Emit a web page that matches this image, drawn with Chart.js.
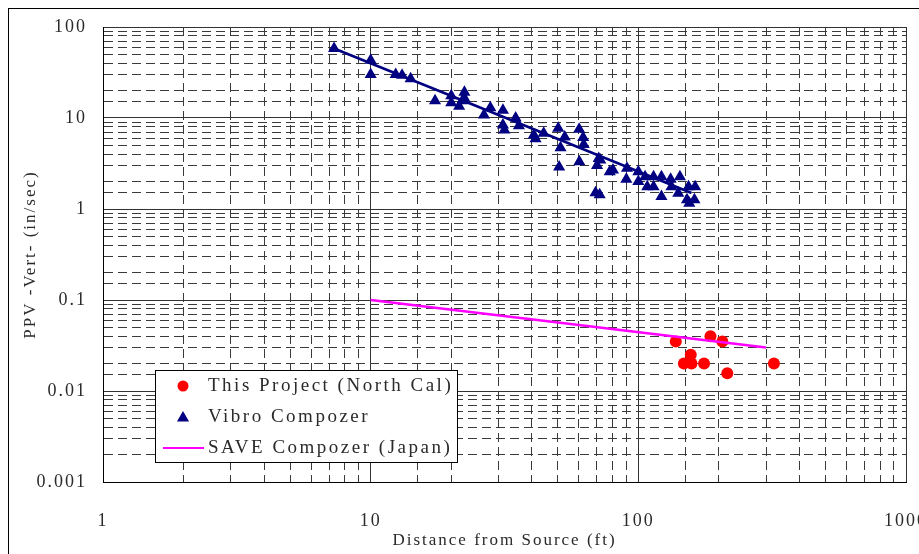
<!DOCTYPE html>
<html><head><meta charset="utf-8">
<script src="https://cdn.jsdelivr.net/npm/chart.js@4/dist/chart.umd.min.js"></script>
<style>html,body{margin:0;padding:0;background:#fff;}#wrap{width:919px;height:554px;position:relative;}</style>
</head><body><div id="wrap"><canvas id="c" width="919" height="554"></canvas></div>
<script>
// ---- data ----
const xTickLabels = ['1', '10', '100', '1000'];
const yTickLabels = ['0.001', '0.01', '0.1', '1', '10', '100'];
const seriesNames = ['This Project (North Cal)', 'Vibro Compozer', 'SAVE Compozer (Japan)'];

const projectX = [138, 186, 206, 157, 148, 158, 176, 215, 321];
const projectY = [0.035, 0.040, 0.035, 0.025, 0.020, 0.020, 0.020, 0.0157, 0.020];

const vibroX = [7.3, 10, 10, 12.4, 13.1, 14.1, 17.4, 20, 20, 21.4, 22.4, 22.4, 22, 26.5, 28, 31.2, 31.2, 31.6, 34.8, 35.8,
  40.7, 41.3, 44.3, 50.2, 53.1, 51.2, 50.6, 60.1, 62.2, 62.5, 60.2, 71.1, 70.1, 69.2, 71.7, 78.2, 72.1, 80.4, 90.7, 90.2,
  100, 100, 106, 108, 114, 114, 122, 122, 132, 133, 143, 141, 154, 163, 152, 162, 155];
const vibroY = [58, 43, 30, 30, 29.5, 27, 15.5, 17.6, 14.7, 13.5, 19.2, 16.5, 15.5, 10.8, 13, 12.2, 8.4, 7.4, 10, 8.2,
  6.5, 5.9, 6.8, 7.7, 6.2, 4.7, 2.9, 7.5, 6.1, 5.1, 3.3, 3.6, 3.0, 1.51, 1.43, 2.57, 3.45, 2.68, 2.8, 2.12,
  2.57, 2.0, 2.26, 1.76, 2.26, 1.76, 2.26, 1.37, 2.12, 1.76, 2.26, 1.49, 1.76, 1.76, 1.26, 1.26, 1.16];

const fitX = [7.3, 158];
const fitY = [58, 1.5];

const saveX = [10, 300];
const saveY = [0.1, 0.03];

// ---- helpers ----
const zip = (xs, ys) => xs.map((x, i) => ({x: x, y: ys[i]}));
const isDecade = v => Math.abs(Math.log10(v) - Math.round(Math.log10(v))) < 1e-6;
const decadeLabel = (v, labels) => {
  if (!isDecade(v)) return '';
  const s = labels.find(l => Math.abs(parseFloat(l) - v) / v < 1e-6);
  return s === undefined ? '' : s;
};
const FONT = "'Liberation Serif', serif";
const TXT = '#2a2a2a';
const noPad = s => { s.paddingLeft = 0; s.paddingRight = 0; s.paddingTop = 0; s.paddingBottom = 0; };

const frame = {
  id: 'frame',
  beforeDraw(chart) {
    chart.ctx.letterSpacing = '2px';
  },
  afterDraw(chart) {
    const ctx = chart.ctx;
    ctx.save();
    ctx.strokeStyle = '#000';
    ctx.lineWidth = 1;
    ctx.strokeRect(8.5, 8.5, 940, 600);
    // legend box
    const bx = 155.5, by = 370.5, bw = 302, bh = 92;
    ctx.fillStyle = '#fff';
    ctx.fillRect(bx, by, bw, bh);
    ctx.strokeStyle = '#000';
    ctx.strokeRect(bx, by, bw, bh);
    const rows = [386, 417, 448];
    const ds = chart.data.datasets;
    ctx.font = "19px " + FONT;
    ctx.letterSpacing = '2.5px';
    ctx.textBaseline = 'middle';
    ctx.textAlign = 'left';
    ctx.fillStyle = ds[0].backgroundColor;
    ctx.beginPath(); ctx.arc(183, rows[0], 5.5, 0, Math.PI * 2); ctx.fill();
    ctx.fillStyle = ds[1].backgroundColor;
    const r = 7, cx = 183, cy = rows[1] + 1;
    ctx.beginPath();
    ctx.moveTo(cx, cy - r);
    ctx.lineTo(cx + r * Math.sin(Math.PI * 2 / 3), cy - r * Math.cos(Math.PI * 2 / 3));
    ctx.lineTo(cx + r * Math.sin(Math.PI * 4 / 3), cy - r * Math.cos(Math.PI * 4 / 3));
    ctx.closePath(); ctx.fill();
    ctx.strokeStyle = ds[3].borderColor;
    ctx.lineWidth = 2;
    ctx.beginPath(); ctx.moveTo(163, rows[2]); ctx.lineTo(204, rows[2]); ctx.stroke();
    ctx.fillStyle = TXT;
    seriesNames.forEach((n, i) => ctx.fillText(n, 208, rows[i]));
    ctx.restore();
  }
};

const minorGrid = {color: '#3a3a3a', lineWidth: 1, drawTicks: false};
const majorGridColor = c => (c.tick && isDecade(c.tick.value)) ? '#333' : 'rgba(0,0,0,0)';

new Chart(document.getElementById('c'), {
  type: 'scatter',
  data: {
    datasets: [
      {label: seriesNames[0], data: zip(projectX, projectY), backgroundColor: '#ff0000', borderColor: '#ff0000',
        pointStyle: 'circle', pointRadius: 6, pointBorderWidth: 0, showLine: false, order: 1},
      {label: seriesNames[1], data: zip(vibroX, vibroY), backgroundColor: '#000080', borderColor: '#000080',
        pointStyle: 'triangle', pointRadius: 7, pointBorderWidth: 0, showLine: false, order: 2},
      {label: 'fit', data: zip(fitX, fitY), borderColor: '#000080', borderWidth: 2.5, pointRadius: 0,
        showLine: true, fill: false, order: 3},
      {label: seriesNames[2], data: zip(saveX, saveY), borderColor: '#ff00ff', backgroundColor: '#ff00ff', borderWidth: 2.5,
        pointRadius: 0, showLine: true, fill: false, order: 0}
    ]
  },
  options: {
    responsive: false,
    animation: false,
    devicePixelRatio: 1,
    layout: {padding: {left: 12, right: 13, top: 27, bottom: 0}},
    plugins: {legend: {display: false}, tooltip: {enabled: false}},
    scales: {
      x: {
        type: 'logarithmic', position: 'bottom', min: 1, max: 1000,
        grid: minorGrid,
        border: {display: true, color: '#000', width: 1, dash: [9, 5]},
        ticks: {autoSkip: false, maxRotation: 0, padding: 28, color: TXT, font: {family: FONT, size: 18},
          callback: v => decadeLabel(v, xTickLabels)},
        title: {display: true, text: 'Distance from Source (ft)', color: TXT, font: {family: FONT, size: 17},
          padding: {top: 0, bottom: 3}},
        afterFit: s => { s.height = 72; noPad(s); }
      },
      xMajor: {
        type: 'logarithmic', position: 'bottom', min: 1, max: 1000,
        grid: {color: majorGridColor, lineWidth: 1, drawTicks: false},
        border: {display: false},
        ticks: {display: false, autoSkip: false},
        afterFit: s => { s.height = 0; noPad(s); }
      },
      y: {
        type: 'logarithmic', position: 'left', min: 0.001, max: 100,
        grid: minorGrid,
        border: {display: true, color: '#000', width: 1, dash: [9, 5]},
        ticks: {autoSkip: false, padding: 16, color: TXT, font: {family: FONT, size: 18},
          callback: v => decadeLabel(v, yTickLabels)},
        title: {display: true, text: 'PPV -Vert- (in/sec)', color: TXT, font: {family: FONT, size: 17},
          padding: {top: 8, bottom: 0}},
        afterFit: s => { s.width = 91; noPad(s); }
      },
      yMajor: {
        type: 'logarithmic', position: 'left', min: 0.001, max: 100,
        grid: {color: majorGridColor, lineWidth: 1, drawTicks: false},
        border: {display: false},
        ticks: {display: false, autoSkip: false},
        afterFit: s => { s.width = 0; noPad(s); }
      }
    }
  },
  plugins: [frame]
});
</script>
</body></html>
